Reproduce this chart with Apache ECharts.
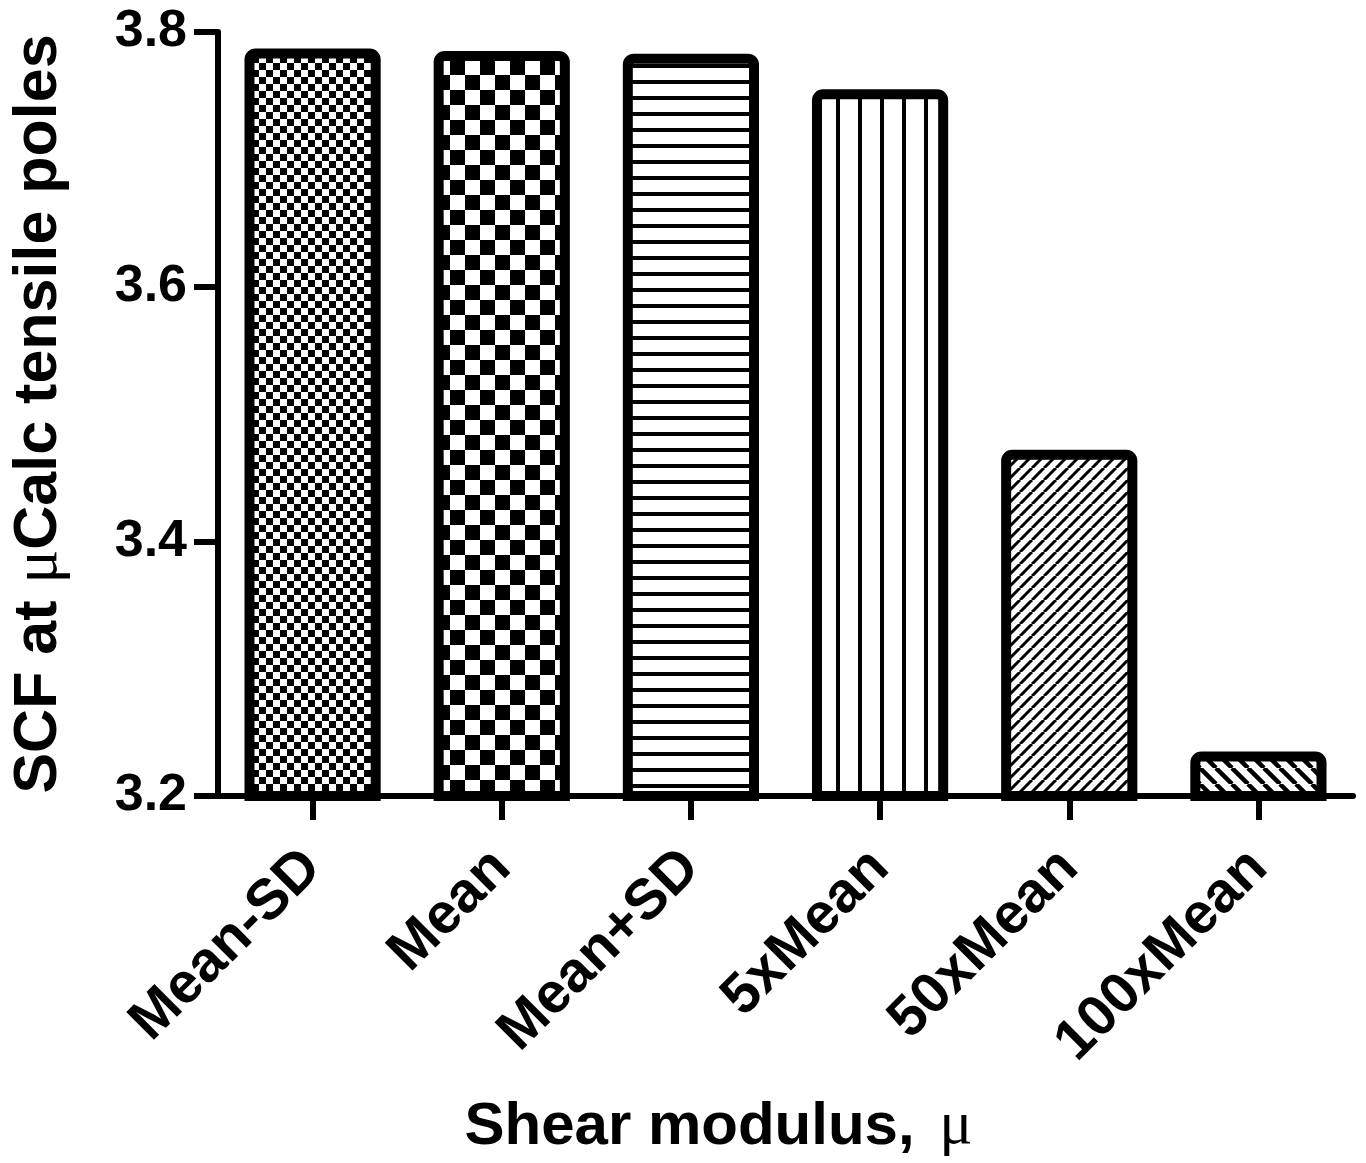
<!DOCTYPE html>
<html>
<head>
<meta charset="utf-8">
<script src="https://cdn.jsdelivr.net/npm/echarts@6/dist/echarts.min.js"></script>
<style>
html,body{margin:0;padding:0;background:#fff;}
#chart{width:1366px;height:1163px;}
</style>
</head>
<body>
<div id="chart"></div>
<script>
var categories = ['Mean-SD', 'Mean', 'Mean+SD', '5xMean', '50xMean', '100xMean'];
var values = [3.787, 3.785, 3.783, 3.755, 3.472, 3.235];
var yTicks = [3.2, 3.4, 3.6, 3.8];
var patternKinds = ['fineCheck', 'check', 'hlines', 'vlines', 'diagUp', 'diagDown'];

function makePattern(kind) {
  var c = document.createElement('canvas');
  var ctx;
  if (kind === 'fineCheck' || kind === 'check') {
    var s = kind === 'fineCheck' ? 7 : 15;
    c.width = c.height = 2 * s;
    ctx = c.getContext('2d');
    ctx.fillStyle = '#fff'; ctx.fillRect(0, 0, 2 * s, 2 * s);
    ctx.fillStyle = '#000';
    ctx.fillRect(0, 0, s, s); ctx.fillRect(s, s, s, s);
  } else if (kind === 'hlines') {
    c.width = 8; c.height = 16;
    ctx = c.getContext('2d');
    ctx.fillStyle = '#fff'; ctx.fillRect(0, 0, 8, 16);
    ctx.fillStyle = '#000'; ctx.fillRect(0, 0, 8, 4);
  } else if (kind === 'vlines') {
    c.width = 22; c.height = 8;
    ctx = c.getContext('2d');
    ctx.fillStyle = '#fff'; ctx.fillRect(0, 0, 22, 8);
    ctx.fillStyle = '#000'; ctx.fillRect(0, 0, 4, 8);
  } else {
    var t = kind === 'diagUp' ? 12 : 16;
    c.width = c.height = t;
    ctx = c.getContext('2d');
    ctx.fillStyle = '#fff'; ctx.fillRect(0, 0, t, t);
    ctx.strokeStyle = '#000';
    ctx.lineWidth = kind === 'diagUp' ? 3 : 4.5;
    ctx.beginPath();
    for (var k = -1; k <= 1; k++) {
      if (kind === 'diagUp') { ctx.moveTo(k * t, t); ctx.lineTo(k * t + t, 0); }
      else { ctx.moveTo(k * t, 0); ctx.lineTo(k * t + t, t); }
    }
    ctx.stroke();
  }
  return { image: c, repeat: 'repeat' };
}

var FONT = '"Liberation Sans", Arial, sans-serif';
var SERIF = '"Liberation Serif", "DejaVu Serif", serif';
var chart = echarts.init(document.getElementById('chart'), null, { renderer: 'canvas' });

var option = {
  backgroundColor: '#fff',
  animation: false,
  grid: { left: 207, right: 13, top: 32, bottom: 365, containLabel: false },
  xAxis: {
    type: 'category',
    data: categories,
    boundaryGap: true,
    axisLine: { lineStyle: { color: '#000', width: 6 } },
    axisTick: { show: true, alignWithLabel: true, length: 24, lineStyle: { color: '#000', width: 6 } },
    axisLabel: {
      rotate: 45, margin: 63, color: '#000', fontFamily: FONT, fontWeight: 'bold', fontSize: 57, interval: 0
    },
    name: '{a|Shear modulus, }{m|μ}',
    nameLocation: 'middle',
    nameGap: 300,
    nameTextStyle: {
      padding: [0, 134, 0, 0],
      verticalAlign: 'top',
      rich: {
        a: { fontFamily: FONT, fontWeight: 'bold', fontSize: 60, color: '#000' },
        m: { fontFamily: SERIF, fontWeight: 'normal', fontSize: 62, color: '#000', padding: [0, 0, 0, 8] }
      }
    }
  },
  yAxis: {
    type: 'value',
    min: 3.2, max: 3.8, interval: 0.2,
    splitLine: { show: false },
    axisLine: { show: true, lineStyle: { color: '#000', width: 6 } },
    axisTick: { show: true, length: 24, lineStyle: { color: '#000', width: 6 } },
    axisLabel: {
      margin: 31, color: '#000', fontFamily: FONT, fontWeight: 'bold', fontSize: 52,
      formatter: function (v) {
        for (var i = 0; i < yTicks.length; i++) if (Math.abs(v - yTicks[i]) < 1e-6) return yTicks[i].toFixed(1);
        return '';
      }
    },
    name: '{a|SCF at }{m|μ}{a|Calc tensile poles}',
    nameLocation: 'middle',
    nameGap: 147,
    nameRotate: 90,
    nameTextStyle: {
      rich: {
        a: { fontFamily: FONT, fontWeight: 'bold', fontSize: 61, color: '#000' },
        m: { fontFamily: SERIF, fontWeight: 'normal', fontSize: 63, color: '#000' }
      }
    }
  },
  series: [{
    type: 'bar',
    barWidth: '72%',
    data: values.map(function (v, i) {
      return {
        value: v,
        itemStyle: {
          color: makePattern(patternKinds[i]),
          borderColor: '#000',
          borderWidth: 10,
          borderRadius: [6, 6, 0, 0]
        }
      };
    }),
    emphasis: { disabled: true }
  }]
};
chart.setOption(option);
</script>
</body>
</html>
